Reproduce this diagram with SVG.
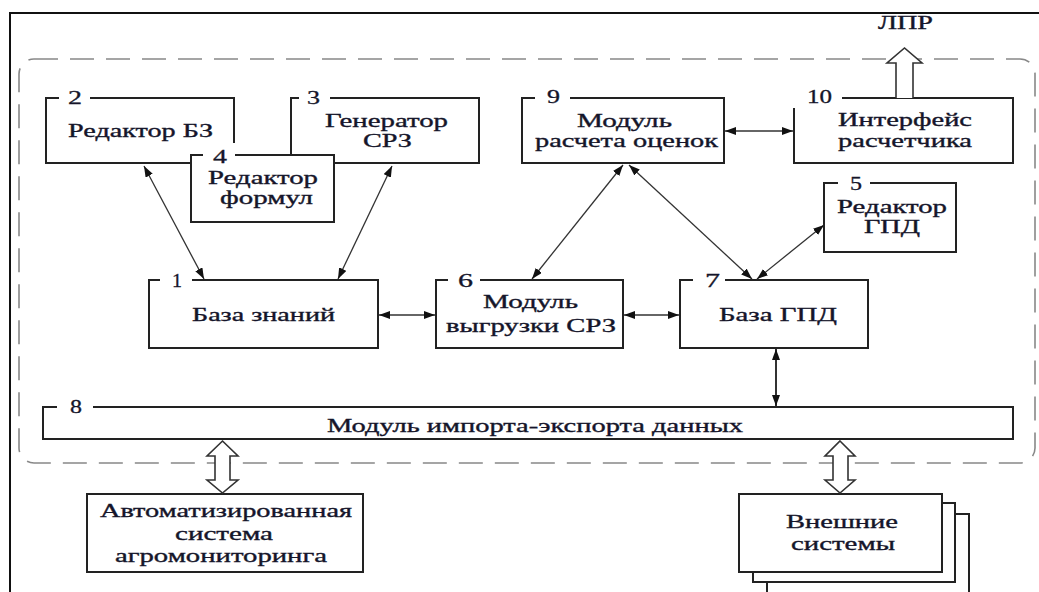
<svg xmlns="http://www.w3.org/2000/svg" width="1039" height="592" viewBox="0 0 1039 592">
  <style>
    .box { fill: #fff; stroke: #222; stroke-width: 2; }
    .gap { fill: #fff; stroke: none; }
    .t { font-family: "Liberation Serif", "Times New Roman", serif; font-size: 19px; fill: #15152a; stroke: #15152a; stroke-width: 0.35; }
    .num { font-family: "Liberation Serif", "Times New Roman", serif; font-size: 19px; fill: #15152a; stroke: #15152a; stroke-width: 0.3; }
    .link { fill: none; stroke: #333; stroke-width: 1.3; marker-start: url(#ah); marker-end: url(#ah); }
    .hollow { fill: #fff; stroke: #333; stroke-width: 1.6; stroke-linejoin: miter; }
  </style>
  <defs>
    <marker id="ah" markerUnits="userSpaceOnUse" markerWidth="11" markerHeight="8" refX="11" refY="4" orient="auto-start-reverse">
      <path d="M0,0 L11,4 L0,8 Z" fill="#111"/>
    </marker>
  </defs>

  <rect width="1039" height="592" fill="#fff"/>
  <!-- page frame -->
  <path d="M10,592 V13 H1039" fill="none" stroke="#111" stroke-width="2"/>
  <!-- system boundary -->
  <rect x="19" y="59" width="1016" height="404" rx="15" ry="15" fill="none" stroke="#888" stroke-width="1.6" stroke-dasharray="24 12"/>

  <!-- 2: knowledge base editor -->
  <g id="node-2">
    <rect class="box" x="46" y="98" width="188" height="65"/>
    <rect class="gap" x="59" y="90" width="31" height="16"/>
    <text class="num" x="68" y="104" textLength="14" lengthAdjust="spacingAndGlyphs">2</text>
    <text class="t" x="68" y="137" textLength="145" lengthAdjust="spacingAndGlyphs">Редактор БЗ</text>
  </g>

  <!-- 3: generator -->
  <g id="node-3">
    <rect class="box" x="291" y="98" width="188" height="65"/>
    <rect class="gap" x="299" y="90" width="31" height="16"/>
    <text class="num" x="307" y="104" textLength="13" lengthAdjust="spacingAndGlyphs">3</text>
    <text class="t" x="325" y="127" textLength="123" lengthAdjust="spacingAndGlyphs">Генератор</text>
    <text class="t" x="363" y="147" textLength="49" lengthAdjust="spacingAndGlyphs">СРЗ</text>
  </g>

  <!-- 4: formula editor, drawn over 2 and 3 -->
  <g id="node-4">
    <rect class="box" x="191" y="155" width="143" height="67"/>
    <rect class="gap" x="203" y="143" width="32" height="17"/>
    <text class="num" x="213" y="163" textLength="14" lengthAdjust="spacingAndGlyphs">4</text>
    <text class="t" x="208" y="184" textLength="110" lengthAdjust="spacingAndGlyphs">Редактор</text>
    <text class="t" x="220" y="204" textLength="93" lengthAdjust="spacingAndGlyphs">формул</text>
  </g>

  <!-- 9: estimate calculation module -->
  <g id="node-9">
    <rect class="box" x="522" y="98" width="202" height="65"/>
    <rect class="gap" x="535" y="90" width="35" height="16"/>
    <text class="num" x="547" y="103" textLength="13" lengthAdjust="spacingAndGlyphs">9</text>
    <text class="t" x="577" y="127" textLength="95" lengthAdjust="spacingAndGlyphs">Модуль</text>
    <text class="t" x="535" y="147" textLength="183" lengthAdjust="spacingAndGlyphs">расчета оценок</text>
  </g>

  <!-- 10: calculator interface -->
  <g id="node-10">
    <rect class="box" x="794" y="98" width="219" height="65"/>
    <rect class="gap" x="792" y="88" width="50" height="20"/>
    <text class="num" x="807" y="103" textLength="25" lengthAdjust="spacingAndGlyphs">10</text>
    <text class="t" x="838" y="126" textLength="134" lengthAdjust="spacingAndGlyphs">Интерфейс</text>
    <text class="t" x="838" y="147" textLength="134" lengthAdjust="spacingAndGlyphs">расчетчика</text>
  </g>

  <!-- decision maker output -->
  <g id="node-lpr">
    <path class="hollow" d="M896,98 V63 H887 L904.5,48 L922,63 H913 V98"/>
    <text class="t" x="878" y="29" textLength="55" lengthAdjust="spacingAndGlyphs">ЛПР</text>
  </g>

  <!-- 5: GPD editor -->
  <g id="node-5">
    <rect class="box" x="824" y="183" width="132" height="69"/>
    <rect class="gap" x="838" y="175" width="32" height="16"/>
    <text class="num" x="850" y="190" textLength="12" lengthAdjust="spacingAndGlyphs">5</text>
    <text class="t" x="837" y="213" textLength="110" lengthAdjust="spacingAndGlyphs">Редактор</text>
    <text class="t" x="864" y="233" textLength="56" lengthAdjust="spacingAndGlyphs">ГПД</text>
  </g>

  <!-- 1: knowledge base -->
  <g id="node-1">
    <rect class="box" x="149" y="280" width="229" height="68"/>
    <rect class="gap" x="160" y="272" width="32" height="16"/>
    <text class="num" x="172" y="287" textLength="10" lengthAdjust="spacingAndGlyphs">1</text>
    <text class="t" x="192" y="321" textLength="143" lengthAdjust="spacingAndGlyphs">База знаний</text>
  </g>

  <!-- 6: export module -->
  <g id="node-6">
    <rect class="box" x="436" y="280" width="187" height="68"/>
    <rect class="gap" x="448" y="272" width="32" height="16"/>
    <text class="num" x="458" y="287" textLength="15" lengthAdjust="spacingAndGlyphs">6</text>
    <text class="t" x="483" y="308" textLength="95" lengthAdjust="spacingAndGlyphs">Модуль</text>
    <text class="t" x="446" y="332" textLength="170" lengthAdjust="spacingAndGlyphs">выгрузки СРЗ</text>
  </g>

  <!-- 7: GPD base -->
  <g id="node-7">
    <rect class="box" x="680" y="280" width="188" height="68"/>
    <rect class="gap" x="693" y="272" width="32" height="16"/>
    <text class="num" x="705" y="287" textLength="15" lengthAdjust="spacingAndGlyphs">7</text>
    <text class="t" x="719" y="321" textLength="118" lengthAdjust="spacingAndGlyphs">База ГПД</text>
  </g>

  <!-- 8: import/export module -->
  <g id="node-8">
    <rect class="box" x="43" y="407" width="970" height="32"/>
    <rect class="gap" x="57" y="399" width="36" height="16"/>
    <text class="num" x="70" y="413" textLength="12" lengthAdjust="spacingAndGlyphs">8</text>
    <text class="t" x="327" y="432" textLength="416" lengthAdjust="spacingAndGlyphs">Модуль импорта-экспорта данных</text>
  </g>

  <!-- external: agromonitoring system -->
  <g id="node-agro">
    <rect class="box" x="87" y="494" width="276" height="78"/>
    <text class="t" x="100" y="517" textLength="252" lengthAdjust="spacingAndGlyphs">Автоматизированная</text>
    <text class="t" x="175" y="540" textLength="98" lengthAdjust="spacingAndGlyphs">система</text>
    <text class="t" x="115" y="562" textLength="212" lengthAdjust="spacingAndGlyphs">агромониторинга</text>
  </g>

  <!-- external systems (stacked) -->
  <g id="node-ext">
    <rect class="box" x="767" y="514" width="202" height="90"/>
    <rect class="box" x="753" y="503" width="202" height="79"/>
    <rect class="box" x="739" y="494" width="203" height="78"/>
    <text class="t" x="786" y="528" textLength="112" lengthAdjust="spacingAndGlyphs">Внешние</text>
    <text class="t" x="791" y="550" textLength="104" lengthAdjust="spacingAndGlyphs">системы</text>
  </g>

  <!-- connectors -->
  <g id="connectors">
    <line class="link" x1="144" y1="166" x2="204" y2="279"/>
    <line class="link" x1="392" y1="166" x2="338" y2="279"/>
    <line class="link" x1="623" y1="165" x2="532" y2="279"/>
    <line class="link" x1="629" y1="165" x2="752" y2="279"/>
    <line class="link" x1="824" y1="225" x2="757" y2="279"/>
    <line class="link" x1="725" y1="131" x2="793" y2="131"/>
    <line class="link" x1="379" y1="315" x2="435" y2="315"/>
    <line class="link" x1="624" y1="315" x2="679" y2="315"/>
    <line class="link" x1="776" y1="349" x2="776" y2="406" style="stroke-width:2"/>
    <path class="hollow" d="M222.5,441 L238,456 H230 V480 H238 L222.5,493 L207,480 H215 V456 H207 Z"/>
    <path class="hollow" d="M840,441 L855,456 H848 V480 H855 L840,493 L825,480 H833 V456 H825 Z"/>
  </g>
</svg>
